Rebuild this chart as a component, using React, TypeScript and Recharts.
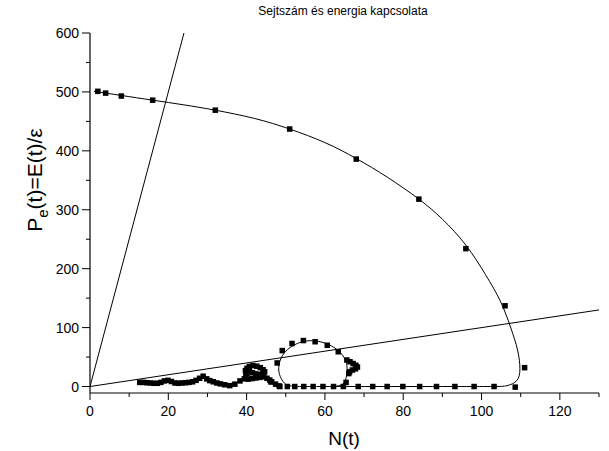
import React from "react";
import { ComposedChart, XAxis, YAxis, Line, Scatter } from "recharts";

// simulated trajectory markers (N, Pe)
const arcSquares: [number, number][] = [
  [2, 501], [4, 498], [8, 493], [16, 486], [32, 469], [51, 437], [68, 386],
  [84, 318], [96, 234], [106, 137], [111, 32], [108.6, -1],
];
const floorSquares: [number, number][] = [
  [103.2, 0], [98.1, 0], [93.2, 0], [88.5, 0], [84.2, 0], [79.9, 0], [75.9, 0],
  [72.2, 0], [68.5, 0], [64.7, 0], [62.2, 0], [59.5, 0], [57, 0], [54.6, 0],
  [52.3, 0], [50.4, 0], [48.5, 0], [46.2, 8],
];
const loopSquares: [number, number][] = [
  [47.8, 40], [49.1, 61], [51.6, 73], [54.5, 78], [57.5, 76], [60.6, 70],
  [63.4, 59], [65.6, 45], [66.4, 42], [67.2, 39], [67.9, 36], [68.3, 33],
  [67.8, 30], [67, 28], [66.3, 25], [66.1, 22], [65.4, 7],
];
const squiggleSquares: [number, number][] = [
  [12.7, 7], [13.6, 7], [14.5, 6.5], [15.4, 6], [16.3, 5.5], [17.2, 5.5],
  [18.1, 7], [19, 9.5], [19.9, 10.5], [20.8, 8.5], [21.7, 6], [22.6, 5.5],
  [23.5, 6], [24.4, 6.5], [25.3, 7], [26.2, 8], [27.1, 10.5], [28, 14],
  [28.9, 17.5], [29.8, 13], [30.6, 10], [31.5, 8], [32.4, 6], [33.3, 4.5],
  [34.4, 3], [35.7, 1.5], [37, 4], [38.3, 9.5], [39.4, 13], [40.4, 12.5],
  [41.4, 13.5], [42.4, 14.5], [43.4, 15.5], [44.4, 16.5], [45.2, 14],
  [45.9, 11], [46.4, 8], [47.4, 4], [48.3, 1],
  [39.8, 18], [39.7, 27], [40.1, 31], [40.7, 34], [41.6, 35.5], [42.6, 34.5],
  [43.5, 32], [44.2, 28.5], [44.6, 25], [44.2, 21.5], [43.3, 20.5],
  [42.3, 21.5], [41.5, 23.5], [40.7, 25.5], [40.1, 22],
];

// fitted curve, in drawing order
const fitCurve: [number, number][] = [
  [1, 501], [8, 494], [16, 486], [24, 478], [32, 469], [42, 455], [51, 437],
  [60, 414], [68, 387], [76, 355], [84, 318], [90, 284], [96, 240],
  [101, 190], [104.8, 145], [107.4, 101], [109.2, 62], [109.8, 30],
  [109, 10], [106.5, 1.5], [103, 0], [95, 0], [85, 0], [75, 0], [65, 0],
  [56, 0], [52, 0.5], [50, 4], [48.8, 14], [48.2, 28], [48.6, 45], [50, 60],
  [52.3, 71], [55, 77], [58, 77], [61, 71], [63.4, 61], [64.9, 49],
  [65.6, 36], [65.6, 22], [65.2, 10], [64.3, 3], [62.5, 0],
];

// reference lines through the origin
const steepLine: [number, number][] = [[0, 0], [24, 600]];
const flatLine: [number, number][] = [[0, 0], [130, 130]];

const xTicks = [0, 10, 20, 30, 40, 50, 60, 70, 80, 90, 100, 110, 120, 130];
const yTicks = [0, 50, 100, 150, 200, 250, 300, 350, 400, 450, 500, 550, 600];

const toRows = (pts: [number, number][]) => pts.map(([x, y]) => ({ x, y }));

const FONT = "'Liberation Sans', Arial, sans-serif";

const XTick = ({ x, y, payload }: any) => {
  const major = payload.value % 20 === 0;
  return (
    <g>
      <line x1={x} x2={x} y1={y} y2={y + (major ? 7 : 4)} stroke="#000" />
      {major && (
        <text x={x} y={y + 23} textAnchor="middle" fontSize={14} fontFamily={FONT} fill="#000">
          {payload.value}
        </text>
      )}
    </g>
  );
};

const YTick = ({ x, y, payload }: any) => {
  const major = payload.value % 100 === 0;
  return (
    <g>
      <line x1={x - (major ? 8 : 4)} x2={x} y1={y} y2={y} stroke="#000" />
      {major && (
        <text x={x - 11} y={y + 5} textAnchor="end" fontSize={14} fontFamily={FONT} fill="#000">
          {payload.value}
        </text>
      )}
    </g>
  );
};

const square = (p: any) => (
  <rect x={p.cx - 2.75} y={p.cy - 2.75} width={5.5} height={5.5} fill="#000" />
);

const YTitle = () => (
  <text transform="translate(42,180) rotate(-90)" textAnchor="middle" fontSize={21} fontFamily={FONT} fill="#000">
    P<tspan dy={6} fontSize={15}>e</tspan>
    <tspan dy={-6}>(t)=E(t)/ε</tspan>
  </text>
);

const XTitle = () => (
  <text x={344} y={445} textAnchor="middle" fontSize={19} fontFamily={FONT} fill="#000">
    N(t)
  </text>
);

export default function App() {
  return (
    <div style={{ position: "absolute", left: 0, top: 0, width: 609, height: 451, background: "#fff" }}>
      <div
        style={{
          position: "absolute",
          top: 4,
          left: 0,
          width: 686,
          textAlign: "center",
          fontFamily: FONT,
          fontSize: 12,
        }}
      >
        Sejtszám és energia kapcsolata
      </div>
      <ComposedChart width={609} height={451} margin={{ top: 33, right: 10, left: 0, bottom: 28 }}>
        <XAxis
          type="number"
          dataKey="x"
          height={30}
          domain={[0, 130]}
          ticks={xTicks}
          interval={0}
          allowDataOverflow
          tickSize={0}
          tickMargin={0}
          tickLine={false}
          tick={<XTick />}
          axisLine={{ stroke: "#000", strokeWidth: 1.2 }}
          label={<XTitle />}
        />
        <YAxis
          type="number"
          dataKey="y"
          width={90}
          domain={[-11, 600]}
          ticks={yTicks}
          interval={0}
          allowDataOverflow
          tickSize={0}
          tickMargin={0}
          tickLine={false}
          tick={<YTick />}
          axisLine={{ stroke: "#000", strokeWidth: 1.2 }}
          label={<YTitle />}
        />
        <Line data={toRows(steepLine)} dataKey="y" type="linear" stroke="#000" strokeWidth={1} dot={false} isAnimationActive={false} />
        <Line data={toRows(flatLine)} dataKey="y" type="linear" stroke="#000" strokeWidth={1} dot={false} isAnimationActive={false} />
        <Line data={toRows(fitCurve)} dataKey="y" type="natural" stroke="#000" strokeWidth={1} dot={false} isAnimationActive={false} />
        <Scatter data={toRows(arcSquares)} dataKey="y" shape={square} isAnimationActive={false} />
        <Scatter data={toRows(floorSquares)} dataKey="y" shape={square} isAnimationActive={false} />
        <Scatter data={toRows(loopSquares)} dataKey="y" shape={square} isAnimationActive={false} />
        <Scatter data={toRows(squiggleSquares)} dataKey="y" shape={square} isAnimationActive={false} />
      </ComposedChart>
    </div>
  );
}
